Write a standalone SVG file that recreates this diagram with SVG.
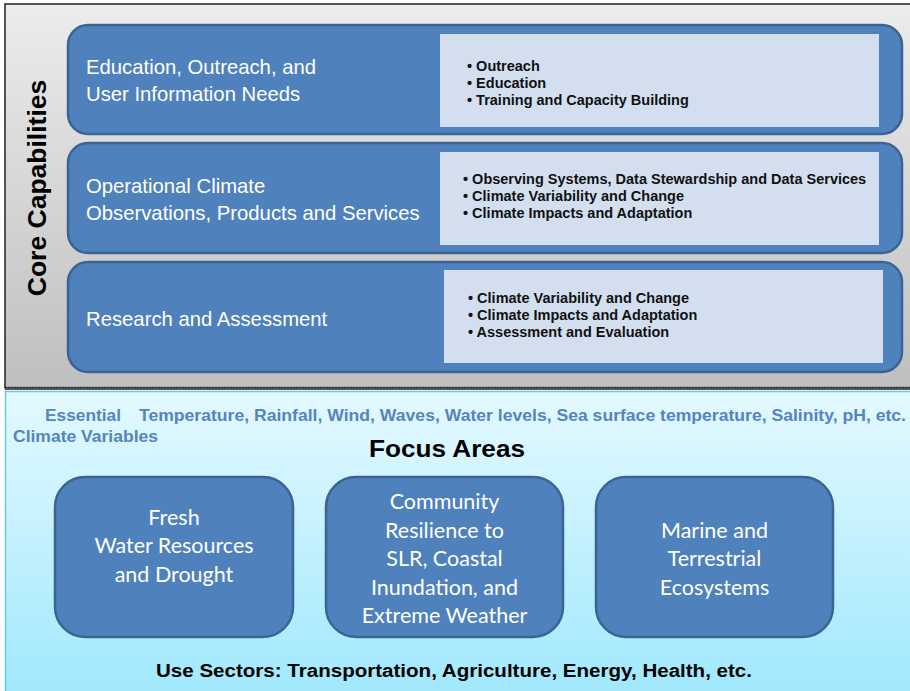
<svg xmlns="http://www.w3.org/2000/svg" width="910" height="691" viewBox="0 0 910 691">
<defs>
<linearGradient id="gGray" x1="0" y1="0" x2="0" y2="1">
<stop offset="0" stop-color="#ececec"/>
<stop offset="1" stop-color="#bfbfbf"/>
</linearGradient>
<linearGradient id="gCyan" x1="0" y1="0" x2="0" y2="1">
<stop offset="0" stop-color="#e4f9ff"/>
<stop offset="1" stop-color="#9fe8fd"/>
</linearGradient>
<style>
.row{fill:#4f81bd;stroke:#3b6494;stroke-width:2.5}
.inner{fill:#d3dfef}
.lbl{font-family:"Liberation Sans",Arial,sans-serif;font-size:20.3px;fill:#ffffff}
.bul{font-family:"Liberation Sans",Arial,sans-serif;font-size:14.5px;font-weight:bold;fill:#111111}
.fa{fill:#4f81bd;stroke:#3b6494;stroke-width:2.5}
.fat{font-family:Lato,"Open Sans",sans-serif;font-size:21.5px;fill:#ffffff;text-anchor:middle}
.ecv{font-family:"Liberation Sans",Arial,sans-serif;font-size:16.5px;font-weight:bold;fill:#5584bf}
</style>
</defs>

<!-- Core capabilities panel -->
<rect x="5" y="4" width="910" height="384" fill="url(#gGray)" stroke="#222222" stroke-width="1.5"/>
<line x1="5" y1="387.5" x2="910" y2="387.5" stroke="#333333" stroke-width="1.5" stroke-dasharray="2,1"/>
<line x1="5" y1="389.5" x2="910" y2="389.5" stroke="#555555" stroke-width="1"/>
<text x="46" y="188" transform="rotate(-90 46 188)" text-anchor="middle" font-family="Liberation Sans, Arial, sans-serif" font-size="26.5" font-weight="bold" fill="#000000">Core Capabilities</text>

<g id="row-education">
<rect class="row" x="68" y="25" width="834" height="109" rx="20"/>
<rect class="inner" x="440" y="34" width="439" height="93"/>
<text class="lbl" x="86" y="74">Education, Outreach, and</text>
<text class="lbl" x="86" y="101">User Information Needs</text>
<text class="bul" x="467" y="71">• Outreach</text>
<text class="bul" x="467" y="88">• Education</text>
<text class="bul" x="467" y="105">• Training and Capacity Building</text>
</g>

<g id="row-operational">
<rect class="row" x="68" y="143" width="834" height="110" rx="20"/>
<rect class="inner" x="440" y="152" width="439" height="93"/>
<text class="lbl" x="86" y="193">Operational Climate</text>
<text class="lbl" x="86" y="220">Observations, Products and Services</text>
<text class="bul" x="463" y="184">• Observing Systems, Data Stewardship and Data Services</text>
<text class="bul" x="463" y="201">• Climate Variability and Change</text>
<text class="bul" x="463" y="218">• Climate Impacts and Adaptation</text>
</g>

<g id="row-research">
<rect class="row" x="68" y="262" width="834" height="110" rx="20"/>
<rect class="inner" x="444" y="270" width="439" height="93"/>
<text class="lbl" x="86" y="326">Research and Assessment</text>
<text class="bul" x="468" y="303">• Climate Variability and Change</text>
<text class="bul" x="468" y="320">• Climate Impacts and Adaptation</text>
<text class="bul" x="468" y="337">• Assessment and Evaluation</text>
</g>

<!-- Focus areas panel -->
<rect x="5.5" y="391.5" width="910" height="310" fill="url(#gCyan)" stroke="#6cc6e0" stroke-width="1.5"/>
<text class="ecv" x="45" y="421" textLength="76" lengthAdjust="spacingAndGlyphs">Essential</text>
<text class="ecv" x="139" y="421" textLength="767" lengthAdjust="spacingAndGlyphs">Temperature, Rainfall, Wind, Waves, Water levels, Sea surface temperature, Salinity, pH, etc.</text>
<text class="ecv" x="13" y="442" textLength="145" lengthAdjust="spacingAndGlyphs">Climate Variables</text>
<text x="369" y="457" font-family="Liberation Sans, Arial, sans-serif" font-size="24" font-weight="bold" fill="#000000" textLength="156" lengthAdjust="spacingAndGlyphs">Focus Areas</text>

<g id="fa-fresh-water">
<rect class="fa" x="55" y="477" width="238" height="160" rx="30"/>
<text class="fat" x="174" y="525">Fresh</text>
<text class="fat" x="174" y="553">Water Resources</text>
<text class="fat" x="174" y="582">and Drought</text>
</g>

<g id="fa-community">
<rect class="fa" x="326" y="477" width="237" height="160" rx="30"/>
<text class="fat" x="444.5" y="509">Community</text>
<text class="fat" x="444.5" y="538">Resilience to</text>
<text class="fat" x="444.5" y="566">SLR, Coastal</text>
<text class="fat" x="444.5" y="595">Inundation, and</text>
<text class="fat" x="444.5" y="623">Extreme Weather</text>
</g>

<g id="fa-marine">
<rect class="fa" x="596" y="477" width="237" height="160" rx="30"/>
<text class="fat" x="714.5" y="538">Marine and</text>
<text class="fat" x="714.5" y="566">Terrestrial</text>
<text class="fat" x="714.5" y="595">Ecosystems</text>
</g>

<text x="156" y="677" font-family="Liberation Sans, Arial, sans-serif" font-size="17.5" font-weight="bold" fill="#000000" textLength="596" lengthAdjust="spacingAndGlyphs">Use Sectors: Transportation, Agriculture, Energy, Health, etc.</text>
</svg>
